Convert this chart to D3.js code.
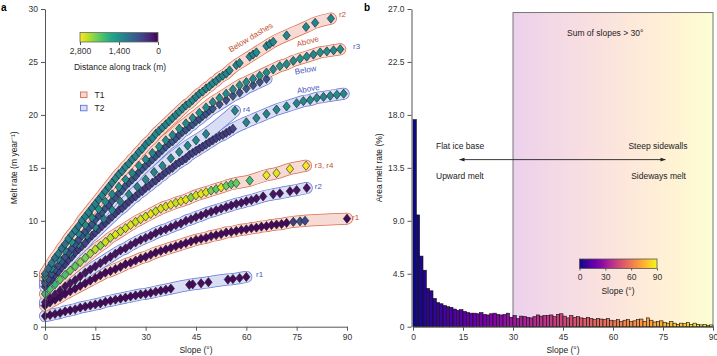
<!DOCTYPE html>
<html>
<head>
<meta charset="utf-8">
<script src="https://cdn.jsdelivr.net/npm/d3@7"></script>
<style>
  body { margin: 0; background: #fff; }
  svg text { font-family: "Liberation Sans", Arial, sans-serif; fill: #222; }
</style>
</head>
<body>
<script>
// ---- values ----
var slopeTicks = [0, 15, 30, 45, 60, 75, 90];
var meltTicks = [0, 5, 10, 15, 20, 25, 30];
var areaTicks = [0, 4.5, 9, 13.5, 18, 22.5, 27];
var distTicks = [2800, 1400, 0];
var hueTicks = [0, 30, 60, 90];

// melt rate tracks: [slope (deg), melt rate (m/yr), distance along track (m)]
var t1r2 = [[0,5.0,1050],[1,5.5,950],[2,6.0,1150],[3,6.5,1000],[4,6.9,1200],[5,7.4,1100],[6,7.8,1050],[7,8.3,1250],[8,8.7,1150],[9,9.1,1200],[10,9.5,1100],[11,10.0,1250],[12,10.4,1200],[13,10.8,1300],[14,11.2,1150],[15,11.6,1250],[16,12.0,1200],[17,12.4,1300],[18,12.8,1150],[19,13.2,1250],[20,13.6,1200],[21,14.0,1300],[22,14.4,1250],[23,14.7,1200],[24,15.1,1350],[25,15.4,1250],[26,15.8,1200],[27,16.1,1300],[28,16.5,1250],[29,16.8,1350],[30,17.2,1200],[31,17.5,1300],[32,17.8,1250],[33,18.2,1350],[34,18.5,1200],[35,18.8,1300],[36,19.1,1250],[37,19.4,1350],[38,19.7,1300],[39,20.0,1250],[40,20.3,1350],[41,20.6,1300],[42,20.9,1250],[43,21.1,1350],[44,21.4,1300],[45,21.7,1250],[46,22.0,1300],[47,22.2,1350],[48,22.5,1250],[49,22.7,1300],[50,23.0,1350],[51,23.2,1250],[52,23.5,1300],[53,23.7,1350],[54,23.9,1250],[55,24.2,1300],[57,24.7,1250],[58,24.9,1300],[61,25.5,1300],[62,25.7,1250],[63,25.9,1350],[66,26.5,1300],[67,26.7,1250],[68,26.9,1300],[72,27.5,1300],[77.8,28.3,1300],[80.5,28.7,1250],[85.2,29.1,1300]];
var t1r3 = [[0,4.7,1300],[2,5.5,1250],[4,6.4,1350],[6,7.2,1300],[8,8.0,1400],[10,8.8,1300],[12,9.6,1350],[14,10.3,1300],[16,11.1,1400],[18,11.8,1350],[20,12.5,1300],[22,13.2,1400],[24,13.9,1350],[26,14.5,1300],[28,15.2,1400],[30,15.8,1350],[32,16.4,1300],[34,17.0,1400],[36,17.6,1350],[38,18.1,1300],[40,18.7,1400],[42,19.2,1350],[44,19.7,1300],[46,20.2,1400],[48,20.7,1350],[50,21.2,1300],[52,21.6,1400],[54,22.0,1350],[56,22.4,1300],[58,22.8,1400],[60,23.1,1350],[62,23.4,1300],[64,23.7,1400],[66,24.0,1350],[68,24.3,1300],[70,24.6,1400],[72,24.8,1350],[74,25.1,1300],[76,25.3,1400],[78,25.5,1350],[80,25.7,1300],[82,25.9,1400],[84,26.0,1350],[86,26.1,1300],[88,26.2,1350]];
var t2r3 = [[0,4.1,700],[1,4.5,650],[2,5.0,750],[3,5.4,700],[4,5.8,650],[5,6.2,750],[6,6.6,700],[7,7.0,650],[8,7.4,750],[9,7.8,700],[10,8.2,650],[11,8.6,750],[12,9.0,700],[13,9.3,650],[14,9.7,750],[15,10.1,700],[16,10.5,650],[17,10.8,750],[18,11.2,700],[19,11.5,650],[20,11.9,750],[21,12.2,700],[22,12.6,650],[23,12.9,750],[24,13.3,700],[25,13.6,650],[26,13.9,750],[27,14.2,700],[28,14.6,650],[29,14.9,750],[30,15.2,700],[31,15.5,650],[32,15.8,750],[33,16.1,700],[34,16.4,650],[35,16.7,750],[36,17.0,700],[37,17.3,650],[38,17.5,750],[39,17.8,700],[40,18.1,650],[41,18.4,750],[42,18.6,700],[43,18.9,650],[44,19.1,750],[45,19.4,700],[46,19.6,650],[47,19.9,750],[48,20.1,700],[49,20.4,650],[50,20.6,750],[52,21.0,700],[54,21.4,650],[56,21.8,750],[58,22.1,700],[60,22.5,800],[62,22.8,700],[64,23.1,750],[66,23.4,700]];
var t2r4 = [[0,4.3,1200],[2.5,5.2,1250],[5,6.1,1300],[7.5,6.9,1250],[10,7.8,1300],[12.5,8.6,1200],[15,9.4,1300],[17.5,10.2,1250],[20,11.0,1300],[22.5,11.8,1200],[25,12.5,1300],[27.5,13.2,1250],[30,13.9,1300],[32.5,14.6,1250],[35,15.2,1300],[37.5,15.9,1250],[40,16.5,1300],[42.5,17.1,1250],[45,17.6,1300],[48,18.2,1250],[56.6,20.4,1250]];
var t2above = [[0,3.8,500],[1,4.2,550],[2,4.5,450],[3,4.9,500],[4,5.2,550],[5,5.6,500],[6,5.9,450],[7,6.3,500],[8,6.6,550],[9,7.0,500],[10,7.3,450],[11,7.6,500],[12,7.9,550],[13,8.3,500],[14,8.6,450],[15,8.9,500],[16,9.2,550],[17,9.5,500],[18,9.8,450],[19,10.1,500],[20,10.4,550],[21,10.7,500],[22,11.0,450],[23,11.2,500],[24,11.5,550],[25,11.8,500],[26,12.1,450],[27,12.3,500],[28,12.6,550],[29,12.8,500],[30,13.1,450],[31,13.3,500],[32,13.6,550],[33,13.8,500],[34,14.1,450],[35,14.3,500],[36,14.6,550],[37,14.8,500],[38,15.0,450],[39,15.3,500],[40,15.5,550],[41,15.7,500],[42,15.9,450],[43,16.2,500],[44,16.4,550],[45,16.6,500],[46,16.8,450],[47,17.0,500],[48,17.2,550],[49,17.4,500],[50,17.6,450],[51,17.8,500],[52,18.0,550],[53,18.1,500],[54,18.3,450],[55,18.5,500],[56,18.7,550],[60,19.3,1250],[63,19.7,1300],[66,20.1,1250],[69,20.5,1300],[72,20.8,1350],[75,21.1,1250],[77,21.3,1300],[79,21.4,1350],[81,21.6,1300],[83,21.7,1250],[85,21.8,1300],[87,21.9,1350],[89,22.0,1300]];
var t1r34 = [[0,3.1,1900],[1.5,3.55,2000],[3,4.0,1850],[4.5,4.45,2100],[6,4.9,2000],[7.5,5.3,2200],[9,5.7,2100],[10.5,6.1,2300],[12,6.5,2200],[13.5,6.9,2400],[15,7.3,2500],[16.5,7.65,2300],[18,8.0,2600],[19.5,8.4,2500],[21,8.7,2650],[22.5,9.0,2550],[24,9.3,2600],[25.5,9.6,2700],[27,9.9,2550],[28.5,10.15,2650],[30,10.4,2600],[31.5,10.65,2700],[33,10.9,2550],[34.5,11.15,2650],[36,11.35,2600],[37.5,11.5,2700],[39,11.7,2550],[40.5,11.85,2650],[42,12.0,2700],[43.5,12.2,2300],[45,12.4,2600],[46.5,12.55,2700],[48,12.7,2650],[49.5,12.85,2200],[51,13.0,2100],[52.5,13.15,2700],[54,13.3,2200],[55.5,13.45,2000],[57,13.55,2150],[61,13.8,1950],[66,14.3,2750],[69,14.5,2700],[73,14.9,2750],[77.8,15.2,2800]];
var t2r2 = [[0,2.3,150],[1.5,2.7,100],[3,3.05,150],[4.5,3.4,120],[6,3.8,100],[7.5,4.1,150],[9,4.4,120],[10.5,4.75,100],[12,5.1,150],[13.5,5.4,120],[15,5.7,100],[16.5,6.0,150],[18,6.3,120],[19.5,6.6,100],[21,6.9,150],[22.5,7.2,120],[24,7.4,100],[25.5,7.7,150],[27,7.95,120],[28.5,8.2,100],[30,8.4,150],[31.5,8.6,120],[33,8.85,100],[34.5,9.05,150],[36,9.2,120],[37.5,9.4,100],[39,9.6,150],[40.5,9.75,120],[42,10.0,100],[43.5,10.15,150],[45,10.35,120],[46.5,10.5,100],[48,10.7,150],[49.5,10.85,120],[51,11.0,100],[52.5,11.15,150],[54,11.3,120],[55.5,11.45,100],[57,11.6,150],[58.5,11.7,120],[60,11.85,100],[61.5,11.95,150],[63,12.1,120],[65,12.3,100],[68,12.5,150],[70,12.6,120],[73,12.8,100],[75,12.9,150],[78,13.1,120]];
var t1r1 = [[0,2.0,60],[1.5,2.3,80],[3,2.55,50],[4.5,2.8,70],[6,3.1,60],[7.5,3.35,80],[9,3.6,50],[10.5,3.85,70],[12,4.1,60],[13.5,4.35,80],[15,4.6,50],[16.5,4.85,70],[18,5.1,60],[19.5,5.25,80],[21,5.45,50],[22.5,5.65,70],[24,5.9,60],[25.5,6.05,80],[27,6.25,50],[28.5,6.45,70],[30,6.6,60],[31.5,6.8,80],[33,7.0,50],[34.5,7.15,70],[36,7.3,60],[37.5,7.45,80],[39,7.6,50],[40.5,7.75,70],[42,7.9,60],[43.5,8.05,80],[45,8.2,50],[46.5,8.3,70],[48,8.4,60],[49.5,8.55,80],[51,8.65,50],[52.5,8.75,70],[54,8.9,60],[55.5,8.95,80],[57,9.05,50],[58.5,9.15,70],[60,9.2,60],[61.5,9.3,80],[63,9.35,50],[64.5,9.45,70],[66,9.5,60],[67.5,9.6,80],[69,9.65,50],[70.5,9.7,70],[72,9.8,60],[74,9.9,500],[76,9.95,700],[77.5,10.0,600],[90,10.2,60]];
var t2r1 = [[0,1.0,80],[1.5,1.1,60],[3,1.2,90],[4.5,1.3,70],[6,1.45,80],[7.5,1.55,60],[9,1.65,90],[10.5,1.8,70],[12,1.9,80],[13.5,2.0,60],[15,2.1,90],[16.5,2.2,70],[18,2.35,80],[19.5,2.45,60],[21,2.55,90],[22.5,2.65,70],[24,2.75,80],[25.5,2.85,60],[27,2.95,90],[28.5,3.05,70],[30,3.1,80],[31.5,3.2,60],[33,3.3,90],[34.5,3.4,70],[36,3.5,80],[37.5,3.6,60],[43,3.95,80],[44,4.0,60],[46.5,4.1,90],[48.7,4.2,70],[54.5,4.45,80],[56,4.5,60],[58,4.6,90],[60,4.7,70]];

// area melt rate (%) in 1 degree slope bins, 0..89
var areaMelt = [17.6, 9.5, 6.0, 4.8, 3.25, 3.05, 2.4, 2.05, 1.95, 1.8, 1.7, 1.65, 1.5, 1.4, 1.45,
  1.3, 1.2, 1.15, 1.15, 1.1, 1.2, 1.05, 1.0, 1.1, 1.15, 1.05, 1.0, 1.05, 1.15, 0.8,
  0.95, 0.7, 0.9, 0.85, 0.8, 0.75, 0.85, 1.0, 0.9, 0.95, 0.95, 1.0, 0.85, 1.05, 1.1,
  0.9, 0.75, 0.95, 0.8, 0.85, 0.75, 0.7, 0.8, 0.7, 0.6, 0.7, 0.65, 0.6, 0.7, 0.55,
  0.5, 0.6, 0.45, 0.55, 0.6, 0.45, 0.5, 0.6, 0.65, 0.45, 0.75, 0.55, 0.4, 0.45, 0.5,
  0.35, 0.3, 0.45, 0.3, 0.2, 0.3, 0.25, 0.35, 0.2, 0.3, 0.2, 0.15, 0.2, 0.1, 0.15];
var steepSum = 26.7; // height of the "> 30 deg" box

// track styles
var trackCol = { T1: { edge: "#dc6a4c", fill: "#f6dbd4", text: "#c4502f" },
                 T2: { edge: "#6474d8", fill: "#d9def4", text: "#4a58c0" } };

// drawing order, bottom to top
var tracks = [
  { track: "T2", pts: t2r1 }, { track: "T1", pts: t1r1 }, { track: "T2", pts: t2r2 },
  { track: "T1", pts: t1r34 }, { track: "T2", pts: t2above }, { track: "T2", pts: t2r4 },
  { track: "T2", pts: t2r3 }, { track: "T1", pts: t1r3 }, { track: "T1", pts: t1r2 }
];

var W = 717, H = 356;
var svg = d3.select("body").append("svg").attr("width", W).attr("height", H);

// scales
var xA = d3.scaleLinear().domain([0, 90]).range([45, 347]);
var yA = d3.scaleLinear().domain([0, 30]).range([326.7, 9]);
var xB = d3.scaleLinear().domain([0, 90]).range([413, 713]);
var yB = d3.scaleLinear().domain([0, 27]).range([326.7, 9]);

var place_text = function(txt, x, y, size, anchor, col, rot, weight) {
  var t = svg.append("text").text(txt)
    .attr("x", x).attr("y", y)
    .style("font-size", size + "px")
    .attr("text-anchor", anchor || "start");
  if (col) t.style("fill", col);
  if (weight) t.style("font-weight", weight);
  if (rot) t.attr("transform", "rotate(" + rot + "," + x + "," + y + ")");
  return t;
};

var style_axis = function(g) {
  g.selectAll(".domain").attr("stroke", "#555").attr("stroke-width", 1);
  g.selectAll(".tick line").attr("stroke", "#555");
  g.selectAll(".tick text").style("font-size", "8.5px").style("fill", "#333")
    .attr("font-family", "Liberation Sans, Arial, sans-serif");
};

/////////////////////////// panel b background box
var defs = svg.append("defs");
var gradBox = defs.append("linearGradient").attr("id", "boxGrad");
d3.range(0, 1.01, 0.1).forEach(function(t) {
  gradBox.append("stop").attr("offset", (t * 100) + "%")
    .attr("stop-color", d3.interpolatePlasma(1 / 3 + t * 2 / 3));
});
svg.append("rect")
  .attr("x", xB(30)).attr("y", yB(steepSum))
  .attr("width", xB(90) - xB(30)).attr("height", yB(0) - yB(steepSum))
  .attr("fill", "url(#boxGrad)").attr("fill-opacity", 0.2)
  .attr("stroke", "#777").attr("stroke-width", 1);

/////////////////////////// panel a: bands then diamonds
var bandLine = d3.line()
  .x(function(d) { return xA(d[0]); })
  .y(function(d) { return yA(d[1]); })
  .curve(d3.curveMonotoneX);

var gBands = svg.append("g");
tracks.forEach(function(tr) {
  gBands.append("path").attr("d", bandLine(tr.pts))
    .attr("fill", "none").attr("stroke", trackCol[tr.track].edge)
    .attr("stroke-width", 12).attr("stroke-linecap", "round").attr("stroke-linejoin", "round");
  gBands.append("path").attr("d", bandLine(tr.pts))
    .attr("fill", "none").attr("stroke", trackCol[tr.track].fill)
    .attr("stroke-width", 10.6).attr("stroke-linecap", "round").attr("stroke-linejoin", "round");
});

var diamond = "M0,-4.6L3.7,0L0,4.6L-3.7,0Z";
var gDots = svg.append("g");
tracks.forEach(function(tr) {
  gDots.selectAll(null).data(tr.pts).enter().append("path")
    .attr("d", diamond)
    .attr("transform", function(d) { return "translate(" + xA(d[0]) + "," + yA(d[1]) + ")"; })
    .attr("fill", function(d) { return d3.interpolateViridis(d[2] / 2800); })
    .attr("stroke", "#1a1a1a").attr("stroke-width", 0.6);
});

// axes a
var axA_y = svg.append("g").attr("transform", "translate(" + xA(0) + ",0)")
  .call(d3.axisLeft(yA).tickValues(meltTicks).tickSize(4).tickSizeOuter(0));
style_axis(axA_y);
var axA_x = svg.append("g").attr("transform", "translate(0," + yA(0) + ")")
  .call(d3.axisBottom(xA).tickValues(slopeTicks).tickSize(4).tickSizeOuter(0));
style_axis(axA_x);

// track labels
place_text("Below dashes", xA(61.7), yA(27.1), 8, "middle", trackCol.T1.text, -31);
place_text("Above", xA(78.5), yA(26.7), 8, "middle", trackCol.T1.text, -15);
place_text("Below", xA(77.8), yA(24.0), 8, "middle", trackCol.T2.text, -10);
place_text("Above", xA(78.6), yA(22.2), 8, "middle", trackCol.T2.text, -10);
place_text("r2", xA(87.6), yA(29.2), 8, "start", trackCol.T1.text);
place_text("r3", xA(91.8), yA(26.2), 8, "start", trackCol.T2.text);
place_text("r4", xA(59), yA(20.3), 8, "start", trackCol.T2.text);
place_text("r3, r4", xA(80.4), yA(15.0), 8, "start", trackCol.T1.text);
place_text("r2", xA(80.4), yA(13.0), 8, "start", trackCol.T2.text);
place_text("r1", xA(91.5), yA(10.1), 8, "start", trackCol.T1.text);
place_text("r1", xA(62.9), yA(4.7), 8, "start", trackCol.T2.text);

// distance colour bar
var distX = d3.scaleLinear().domain([2800, 0]).range([80, 158]);
var gradDist = defs.append("linearGradient").attr("id", "distGrad");
d3.range(0, 1.01, 0.1).forEach(function(t) {
  gradDist.append("stop").attr("offset", (t * 100) + "%")
    .attr("stop-color", d3.interpolateViridis(1 - t));
});
svg.append("rect").attr("x", 80).attr("y", 32.5).attr("width", 78).attr("height", 9.5)
  .attr("fill", "url(#distGrad)").attr("stroke", "#666").attr("stroke-width", 0.8);
var axDist = svg.append("g").attr("transform", "translate(0,42)")
  .call(d3.axisBottom(distX).tickValues(distTicks).tickSize(3).tickSizeOuter(0)
    .tickFormat(d3.format(",")));
axDist.select(".domain").remove();
style_axis(axDist);
place_text("Distance along track (m)", 120, 69.5, 8.5, "middle");

// T1/T2 legend
["T1", "T2"].forEach(function(k, i) {
  svg.append("rect").attr("x", 80.5).attr("y", 92 + i * 13.3).attr("width", 6.5).attr("height", 5.5)
    .attr("fill", trackCol[k].fill).attr("stroke", trackCol[k].edge).attr("stroke-width", 0.9);
  place_text(k, 94.5, 98 + i * 13.3, 8.5, "start");
});

place_text("Slope (\u00b0)", xA(45), 353, 8.5, "middle");
place_text("Melt rate (m year\u207b\u00b9)", 17.5, yA(15), 8.5, "middle", null, -90);
place_text("a", 1, 11, 10, "start", "#000", 0, "bold");

/////////////////////////// panel b: histogram
var binW = xB(1) - xB(0);
svg.append("g").selectAll("rect").data(areaMelt).enter().append("rect")
  .attr("x", function(d, i) { return xB(i); })
  .attr("y", function(d) { return yB(d); })
  .attr("width", binW)
  .attr("height", function(d) { return yB(0) - yB(d); })
  .attr("fill", function(d, i) { return d3.interpolatePlasma(i / 90); })
  .attr("stroke", "#111").attr("stroke-width", 0.6);

var axB_y = svg.append("g").attr("transform", "translate(" + (xB(0) - 1.5) + ",0)")
  .call(d3.axisLeft(yB).tickValues(areaTicks).tickSize(4).tickSizeOuter(0)
    .tickFormat(function(d) { return d === 0 ? "0" : d.toFixed(1); }));
style_axis(axB_y);
var axB_x = svg.append("g").attr("transform", "translate(0," + yB(0) + ")")
  .call(d3.axisBottom(xB).tickValues(slopeTicks).tickSize(4).tickSizeOuter(0));
style_axis(axB_x);

// arrow + notes
var mk = defs.append("marker").attr("id", "head").attr("viewBox", "0 0 10 10")
  .attr("refX", 9).attr("refY", 5).attr("markerWidth", 6).attr("markerHeight", 6)
  .attr("orient", "auto-start-reverse");
mk.append("path").attr("d", "M0,1.5L10,5L0,8.5Z").attr("fill", "#222");
svg.append("line")
  .attr("x1", xB(14)).attr("x2", xB(75.7)).attr("y1", yB(14.2)).attr("y2", yB(14.2))
  .attr("stroke", "#222").attr("stroke-width", 0.9)
  .attr("marker-start", "url(#head)").attr("marker-end", "url(#head)");
place_text("Flat ice base", 436, 149, 8.5, "start");
place_text("Upward melt", 436, 179, 8.5, "start");
place_text("Steep sidewalls", 687.5, 149, 8.5, "end");
place_text("Sideways melt", 686, 179, 8.5, "end");
place_text("Sum of slopes > 30\u00b0", 567, 36, 8.5, "start");

// slope colour bar
var hueX = d3.scaleLinear().domain([0, 90]).range([579.5, 657]);
var gradHue = defs.append("linearGradient").attr("id", "hueGrad");
d3.range(0, 1.01, 0.1).forEach(function(t) {
  gradHue.append("stop").attr("offset", (t * 100) + "%")
    .attr("stop-color", d3.interpolatePlasma(t));
});
svg.append("rect").attr("x", 579.5).attr("y", 259).attr("width", 77.5).attr("height", 9.5)
  .attr("fill", "url(#hueGrad)").attr("stroke", "#555").attr("stroke-width", 0.8);
var axHue = svg.append("g").attr("transform", "translate(0,268.5)")
  .call(d3.axisBottom(hueX).tickValues(hueTicks).tickSize(2).tickSizeOuter(0));
axHue.select(".domain").remove();
style_axis(axHue);
place_text("Slope (\u00b0)", 618, 294, 8.5, "middle");

place_text("Slope (\u00b0)", xB(45), 353, 8.5, "middle");
place_text("Area melt rate (%)", 382, yB(13.5), 8.5, "middle", null, -90);
place_text("b", 364, 11, 10, "start", "#000", 0, "bold");
</script>
</body>
</html>
